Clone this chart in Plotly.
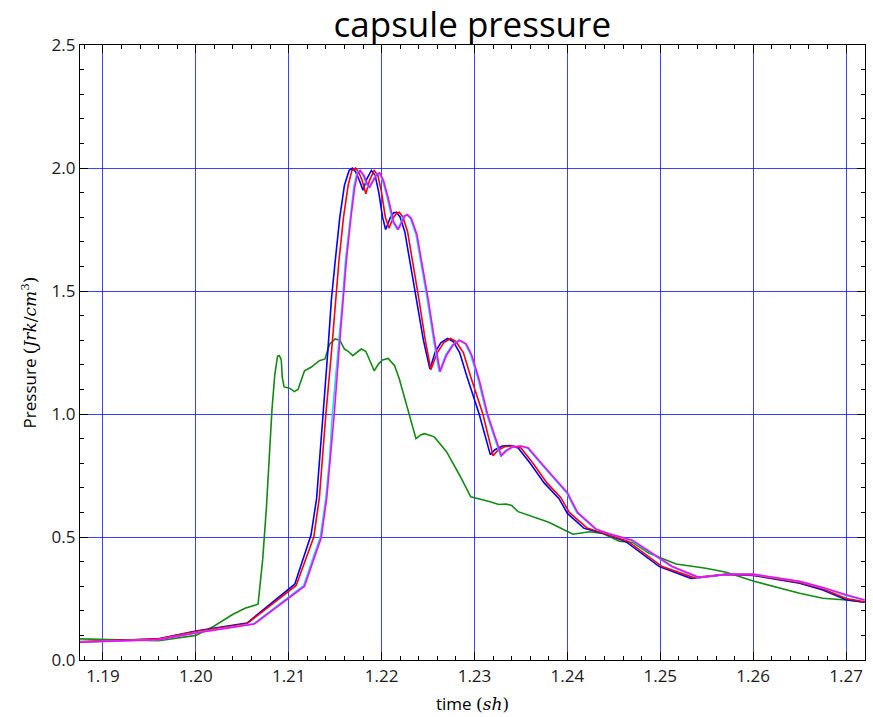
import plotly.graph_objects as go

# ---- data ----
t_green = [1.1875, 1.1960, 1.2000, 1.2019, 1.2040, 1.2053, 1.2067, 1.2072, 1.2076, 1.2079, 1.2082,
           1.2085, 1.2088, 1.2090, 1.2092, 1.2093, 1.2095, 1.2101, 1.2106, 1.2110, 1.2114, 1.2117,
           1.2124, 1.2133, 1.2139, 1.2144, 1.2150, 1.2155, 1.2160, 1.2164, 1.2169, 1.2173, 1.2178,
           1.2183, 1.2192, 1.2197, 1.2201, 1.2207, 1.2214, 1.2219, 1.2230, 1.2237, 1.2242, 1.2246,
           1.2251, 1.2257, 1.2270, 1.2284, 1.2296, 1.2305, 1.2316, 1.2326, 1.2334, 1.2340, 1.2347,
           1.2380, 1.2406, 1.2424, 1.2438, 1.2456, 1.2470, 1.2488, 1.2502, 1.2517, 1.2549, 1.2571,
           1.2600, 1.2621, 1.2650, 1.2675, 1.2700, 1.2720]
p_green = [0.086, 0.078, 0.100, 0.136, 0.186, 0.210, 0.227, 0.41, 0.62, 0.85, 1.02,
           1.16, 1.235, 1.237, 1.22, 1.15, 1.11, 1.105, 1.091, 1.10, 1.14, 1.176,
           1.19, 1.217, 1.224, 1.284, 1.305, 1.30, 1.264, 1.255, 1.237, 1.25, 1.264,
           1.255, 1.176, 1.205, 1.22, 1.226, 1.196, 1.143, 0.994, 0.90, 0.915, 0.92,
           0.915, 0.906, 0.846, 0.751, 0.663, 0.655, 0.644, 0.632, 0.634, 0.628, 0.603,
           0.56, 0.511, 0.521, 0.514, 0.483, 0.478, 0.434, 0.413, 0.39, 0.373, 0.357,
           0.321, 0.299, 0.271, 0.251, 0.244, 0.235]

t_blue = [1.1875, 1.1960, 1.2000, 1.2055, 1.21065, 1.2124, 1.2130, 1.2133, 1.2137, 1.2142, 1.2146,
          1.2150, 1.2155, 1.2160, 1.2165, 1.21685, 1.2172, 1.2176, 1.2180, 1.2184, 1.2189, 1.2193,
          1.2197, 1.2201, 1.22043, 1.2209, 1.2213, 1.2216, 1.2220, 1.2225, 1.2237, 1.2245, 1.2252,
          1.2258, 1.2264, 1.2271, 1.2277, 1.2284, 1.2292, 1.2305, 1.2317, 1.2322, 1.2330, 1.2339,
          1.2347, 1.2360, 1.2375, 1.2391, 1.2400, 1.2418, 1.2442, 1.2463, 1.2499, 1.2533, 1.2571,
          1.2600, 1.2650, 1.2675, 1.2700, 1.2720]
p_blue = [0.073, 0.086, 0.118, 0.150, 0.308, 0.508, 0.656, 0.818, 1.00, 1.25, 1.467,
          1.62, 1.80, 1.93, 1.99, 2.00, 1.985, 1.95, 1.91, 1.955, 1.99, 1.97,
          1.90, 1.80, 1.75, 1.795, 1.818, 1.82, 1.80, 1.74, 1.47, 1.30, 1.183,
          1.255, 1.29, 1.307, 1.295, 1.25, 1.15, 1.00, 0.835, 0.855, 0.870, 0.872,
          0.862, 0.80, 0.72, 0.656, 0.596, 0.535, 0.511, 0.481, 0.38, 0.332, 0.348,
          0.344, 0.312, 0.285, 0.245, 0.235]

t_red = [1.1875, 1.1960, 1.2000, 1.2055, 1.2108, 1.2127, 1.2133, 1.2136, 1.2140, 1.2146, 1.2151,
         1.2154, 1.2159, 1.2164, 1.2168, 1.2172, 1.2175, 1.2179, 1.2183, 1.2187, 1.2192, 1.2196,
         1.2200, 1.2204, 1.2208, 1.2212, 1.2216, 1.2219, 1.2223, 1.2228, 1.2240, 1.2247, 1.2253,
         1.2260, 1.2267, 1.2274, 1.2280, 1.2288, 1.2296, 1.2309, 1.2320, 1.2325, 1.2333, 1.2342,
         1.2350, 1.2363, 1.2378, 1.2393, 1.2402, 1.2421, 1.2442, 1.2465, 1.2502, 1.2536, 1.2571,
         1.2600, 1.2650, 1.2675, 1.2700, 1.2720]
p_red = [0.075, 0.086, 0.116, 0.147, 0.303, 0.50, 0.66, 0.82, 1.00, 1.25, 1.467,
         1.62, 1.80, 1.93, 1.99, 2.00, 1.985, 1.95, 1.895, 1.95, 1.99, 1.97,
         1.90, 1.80, 1.755, 1.795, 1.815, 1.82, 1.80, 1.74, 1.47, 1.30, 1.18,
         1.25, 1.29, 1.307, 1.295, 1.25, 1.15, 1.00, 0.83, 0.852, 0.868, 0.870,
         0.862, 0.80, 0.72, 0.66, 0.60, 0.537, 0.512, 0.483, 0.38, 0.335, 0.348,
         0.346, 0.315, 0.29, 0.25, 0.237]

t_cyan = [1.1875, 1.1960, 1.2000, 1.2062, 1.2116, 1.2134, 1.2140, 1.2144, 1.2147, 1.2153, 1.2158,
          1.2161, 1.2166, 1.2170, 1.2173, 1.2176, 1.2180, 1.2183, 1.2186, 1.2190, 1.2194, 1.2197,
          1.2201, 1.2206, 1.2212, 1.2217, 1.2221, 1.2224, 1.2227, 1.2231, 1.2237, 1.2249, 1.2256,
          1.2262, 1.2269, 1.2276, 1.2283, 1.2290, 1.2296, 1.2304, 1.2313, 1.2328, 1.2333, 1.2340,
          1.2349, 1.2357, 1.2371, 1.2389, 1.2399, 1.2410, 1.2430, 1.2445, 1.2469, 1.2512, 1.2541,
          1.2571, 1.2600, 1.2650, 1.2675, 1.2700, 1.2720]
p_cyan = [0.073, 0.083, 0.111, 0.147, 0.302, 0.50, 0.66, 0.82, 1.00, 1.25, 1.467,
          1.62, 1.80, 1.92, 1.975, 1.99, 1.97, 1.94, 1.92, 1.95, 1.975, 1.98,
          1.95, 1.88, 1.78, 1.75, 1.785, 1.805, 1.81, 1.795, 1.73, 1.47, 1.30,
          1.172, 1.24, 1.28, 1.30, 1.285, 1.24, 1.14, 1.00, 0.83, 0.85, 0.866,
          0.870, 0.862, 0.80, 0.72, 0.68, 0.60, 0.532, 0.513, 0.486, 0.38, 0.335,
          0.348, 0.348, 0.319, 0.294, 0.262, 0.243]

t_magenta = [1.1875, 1.1960, 1.2000, 1.2063, 1.2117, 1.2135, 1.2141, 1.2145, 1.2149, 1.2154, 1.2159,
             1.2162, 1.2167, 1.2171, 1.2174, 1.2177, 1.2181, 1.2184, 1.2187, 1.2191, 1.2195, 1.2198,
             1.2202, 1.2207, 1.2213, 1.2218, 1.2222, 1.2225, 1.2228, 1.2232, 1.2238, 1.2250, 1.2257,
             1.2263, 1.2270, 1.2277, 1.2284, 1.2291, 1.2297, 1.2305, 1.2314, 1.2329, 1.2334, 1.2341,
             1.2350, 1.2358, 1.2372, 1.2390, 1.2400, 1.2411, 1.2431, 1.2445, 1.2470, 1.2513, 1.2542,
             1.2571, 1.2600, 1.2650, 1.2675, 1.2700, 1.2720]
p_magenta = [0.072, 0.083, 0.110, 0.146, 0.300, 0.497, 0.66, 0.82, 1.00, 1.25, 1.467,
             1.62, 1.80, 1.92, 1.975, 1.99, 1.97, 1.94, 1.92, 1.95, 1.975, 1.98,
             1.95, 1.88, 1.78, 1.75, 1.785, 1.805, 1.81, 1.795, 1.73, 1.47, 1.30,
             1.172, 1.24, 1.28, 1.30, 1.285, 1.24, 1.14, 1.00, 0.83, 0.85, 0.866,
             0.870, 0.862, 0.80, 0.72, 0.68, 0.60, 0.532, 0.513, 0.487, 0.38, 0.335,
             0.348, 0.349, 0.32, 0.295, 0.265, 0.244]

x_ticks = [1.19, 1.20, 1.21, 1.22, 1.23, 1.24, 1.25, 1.26, 1.27]
x_tick_labels = ["1.19", "1.20", "1.21", "1.22", "1.23", "1.24", "1.25", "1.26", "1.27"]
y_ticks = [0.0, 0.5, 1.0, 1.5, 2.0, 2.5]
y_tick_labels = ["0.0", "0.5", "1.0", "1.5", "2.0", "2.5"]

series = [
    (t_green, p_green, "#138a13"),
    (t_blue, p_blue, "#0000ff"),
    (t_red, p_red, "#ff0000"),
    (t_cyan, p_cyan, "#00e5e5"),
    (t_magenta, p_magenta, "#ff00ff"),
]

fig = go.Figure()
for t, p, c in series:
    fig.add_trace(go.Scatter(x=t, y=p, mode="lines", line=dict(color=c, width=1.6),
                             showlegend=False, hoverinfo="skip"))

font_main = "Open Sans, Noto Sans, sans-serif"
axis_common = dict(
    showline=True, linecolor="black", linewidth=1.2, mirror="ticks",
    ticks="inside", ticklen=8, tickwidth=1, tickcolor="black",
    showgrid=True, gridcolor="rgba(0,0,255,0.75)", gridwidth=1,
    zeroline=False,
    tickfont=dict(family=font_main, size=17, color="#1a1a1a"),
)

fig.update_xaxes(
    range=[1.18753, 1.27204], tickvals=x_ticks, ticktext=x_tick_labels,
    minor=dict(ticks="inside", ticklen=4, tickcolor="black", dtick=0.002, showgrid=False),
    title=dict(text='time <span style="font-family:DejaVu Serif">(<i>sh</i>)</span>',
               font=dict(family=font_main, size=17, color="black"), standoff=12),
    **axis_common,
)
fig.update_yaxes(
    range=[0, 2.5], tickvals=y_ticks, ticktext=y_tick_labels,
    minor=dict(ticks="inside", ticklen=4, tickcolor="black", dtick=0.1, showgrid=False),
    title=dict(text='Pressure <span style="font-family:DejaVu Serif">(<i>Jrk</i>/<i>cm</i><sup>3</sup>)</span>',
               font=dict(family=font_main, size=17, color="black"), standoff=10),
    **axis_common,
)

fig.update_layout(
    width=873, height=717,
    margin=dict(l=80, r=7, t=45, b=54),
    paper_bgcolor="white", plot_bgcolor="white",
    title=dict(text="capsule pressure", x=0.541, xanchor="center", y=0.965, yanchor="middle",
               font=dict(family=font_main, size=35, color="black")),
)

fig.write_html("out.html")
